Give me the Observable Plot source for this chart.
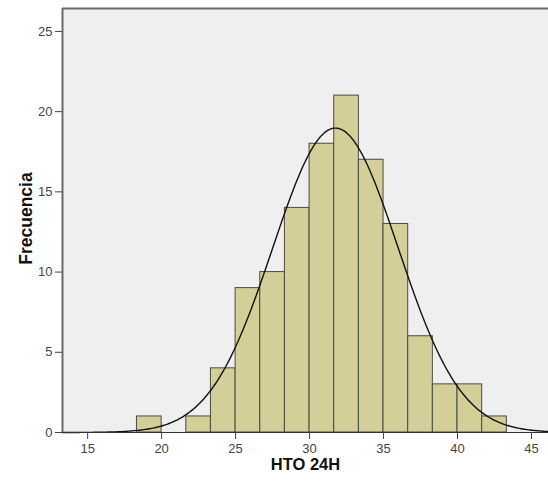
<!DOCTYPE html>
<html>
<head>
<meta charset="utf-8">
<script src="https://cdn.jsdelivr.net/npm/d3@7"></script>
<script src="https://cdn.jsdelivr.net/npm/@observablehq/plot@0.6"></script>
<style>
  html, body { margin: 0; padding: 0; background: #fff; }
</style>
</head>
<body>
<div id="chart"></div>
<script>
// Histogram bins (HTO 24H), bin width 5/3
const binLower = [18.333, 20, 21.667, 23.333, 25, 26.667, 28.333, 30, 31.667, 33.333, 35, 36.667, 38.333, 40, 41.667];
const binUpper = [20, 21.667, 23.333, 25, 26.667, 28.333, 30, 31.667, 33.333, 35, 36.667, 38.333, 40, 41.667, 43.333];
const counts   = [1, 0, 1, 4, 9, 10, 14, 18, 21, 17, 13, 6, 3, 3, 1];

// Fitted normal curve parameters
const mean = 31.75;
const stdDev = 4.24;
const nObs = 121;
const binWidth = 5 / 3;

const xTicks = [15, 20, 25, 30, 35, 40, 45];
const yTicks = [0, 5, 10, 15, 20, 25];
const xDomain = [13.3, 46.15];
const yDomain = [0, 26.43];

const bins = binLower.map((lo, i) => ({lo, hi: binUpper[i], count: counts[i]})).filter(d => d.count > 0);

const curve = d3.range(xDomain[0], xDomain[1] + 0.001, 0.1).map(x => ({
  x,
  y: nObs * binWidth * Math.exp(-((x - mean) ** 2) / (2 * stdDev * stdDev)) / (stdDev * Math.sqrt(2 * Math.PI))
}));

const chart = Plot.plot({
  width: 548,
  height: 483,
  marginLeft: 62,
  marginRight: 0,
  marginTop: 8,
  marginBottom: 51,
  style: {fontFamily: "'Liberation Sans', Arial, sans-serif", background: "#fff"},
  x: {domain: xDomain},
  y: {domain: yDomain},
  marks: [
    Plot.frame({fill: "#efefef", stroke: null}),
    Plot.rectY(bins, {x1: "lo", x2: "hi", y: "count", fill: "#d4cf99", stroke: "#4a4a40", strokeWidth: 1}),
    Plot.line(curve, {x: "x", y: "y", stroke: "#111", strokeWidth: 1.4}),
    Plot.ruleX([xDomain[0]], {stroke: "#6a6a6a", strokeWidth: 2}),
    Plot.ruleY([yDomain[1]], {stroke: "#6a6a6a", strokeWidth: 2}),
    Plot.ruleY([0], {stroke: "#333", strokeWidth: 1.2}),
    Plot.axisX({ticks: xTicks, tickSize: 7, tickPadding: 4, fontSize: 13, color: "#444", label: null, tickFormat: d => d}),
    Plot.axisY({ticks: yTicks, tickSize: 7, tickPadding: 3, fontSize: 13, color: "#444", label: null, tickFormat: d => d}),
    Plot.text(["HTO 24H"], {frameAnchor: "bottom", dy: 37, fontWeight: "bold", fontSize: 16.5, fill: "#111"}),
    Plot.text(["Frecuencia"], {frameAnchor: "left", textAnchor: "middle", rotate: -90, dx: -36, dy: -2, fontWeight: "bold", fontSize: 17.5, fill: "#111"})
  ]
});

document.getElementById("chart").appendChild(chart);
</script>
</body>
</html>
